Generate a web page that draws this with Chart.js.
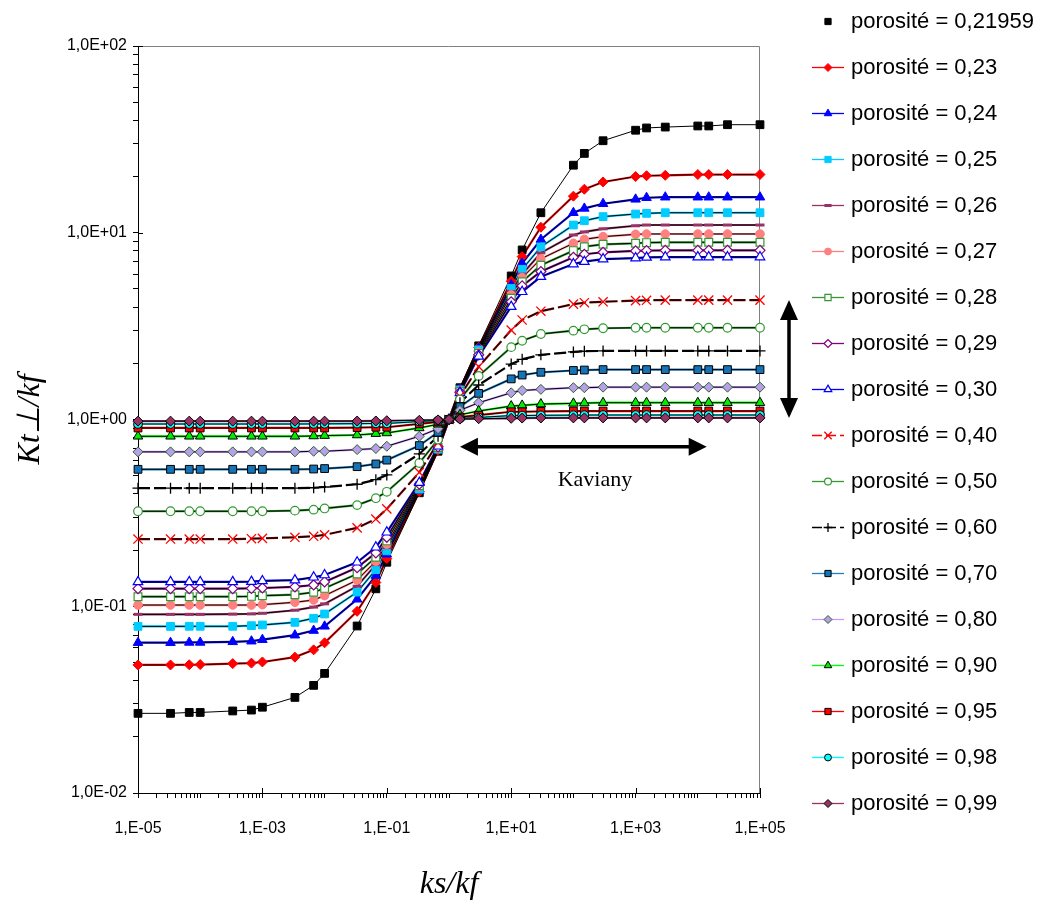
<!DOCTYPE html>
<html>
<head>
<meta charset="utf-8">
<script src="https://cdn.jsdelivr.net/npm/chart.js@4.4.0/dist/chart.umd.min.js"></script>
<style>
html,body{margin:0;padding:0;background:#ffffff;}
#wrap{width:1039px;height:913px;position:relative;}
canvas{display:block;}
</style>
</head>
<body>
<div id="wrap"><canvas id="c" width="1039" height="913"></canvas></div>
<script>
// ---------- DATA ----------
const ksKf = [1e-5, 3.333e-5, 6.667e-5, 1e-4, 3.333e-4, 6.667e-4, 1e-3, 3.333e-3, 6.667e-3, 1e-2, 3.333e-2, 6.667e-2, 0.1, 0.3333, 0.6667,
              1, 1.5, 3, 10, 15, 30, 100, 150, 300, 1000, 1500, 3000, 1e4, 1.5e4, 3e4, 1e5];

const kt_021959 = [0.0267, 0.0267, 0.0270, 0.0270, 0.0275, 0.0278, 0.0288, 0.0325, 0.0377, 0.0437, 0.0784, 0.124, 0.172, 0.405, 0.676,
                   1, 1.48, 2.48, 5.87, 8.09, 12.8, 23.0, 26.6, 31.1, 35.4, 36.4, 36.8, 37.3, 37.3, 37.9, 37.9];
const kt_023 = [0.0485, 0.0485, 0.0486, 0.0487, 0.0493, 0.0496, 0.0503, 0.0534, 0.0584, 0.0637, 0.0940, 0.134, 0.180, 0.411, 0.685,
                1, 1.46, 2.43, 5.50, 7.45, 10.7, 15.7, 17.1, 18.7, 20.0, 20.2, 20.3, 20.5, 20.5, 20.5, 20.5];
const kt_024 = [0.0638, 0.0638, 0.0640, 0.0640, 0.0645, 0.0650, 0.0662, 0.0700, 0.0741, 0.0781, 0.109, 0.146, 0.190, 0.417, 0.690,
                1, 1.45, 2.40, 5.25, 6.86, 9.20, 12.8, 13.5, 14.3, 15.1, 15.4, 15.5, 15.5, 15.5, 15.5, 15.5];
const kt_025 = [0.0780, 0.0780, 0.0781, 0.0781, 0.0781, 0.0787, 0.0794, 0.0820, 0.0862, 0.0909, 0.119, 0.157, 0.198, 0.424, 0.694,
                1, 1.44, 2.36, 5.04, 6.37, 8.40, 11.0, 11.6, 12.2, 12.6, 12.7, 12.8, 12.8, 12.8, 12.8, 12.8];
const kt_026 = [0.0905, 0.0905, 0.0905, 0.0905, 0.0908, 0.0910, 0.0917, 0.0952, 0.0990, 0.103, 0.128, 0.167, 0.206, 0.429, 0.699,
                1, 1.43, 2.33, 4.85, 6.00, 7.80, 9.73, 10.1, 10.5, 10.9, 11.0, 11.0, 11.0, 11.0, 11.0, 11.0];
const kt_027 = [0.1015, 0.1015, 0.1015, 0.1015, 0.1015, 0.1015, 0.1020, 0.1050, 0.108, 0.114, 0.138, 0.174, 0.215, 0.437, 0.704,
                1, 1.42, 2.29, 4.65, 5.75, 7.25, 8.78, 9.22, 9.53, 9.81, 9.85, 9.85, 9.85, 9.85, 9.85, 9.85];
const kt_028 = [0.1125, 0.1125, 0.1125, 0.1125, 0.1125, 0.1130, 0.1139, 0.1153, 0.1188, 0.1247, 0.149, 0.183, 0.224, 0.442, 0.709,
                1, 1.41, 2.26, 4.46, 5.47, 6.70, 8.02, 8.42, 8.67, 8.78, 8.85, 8.89, 8.89, 8.89, 8.89, 8.89];
const kt_029 = [0.1242, 0.1242, 0.1242, 0.1242, 0.1242, 0.1247, 0.1252, 0.127, 0.130, 0.135, 0.161, 0.193, 0.234, 0.450, 0.714,
                1, 1.40, 2.22, 4.27, 5.19, 6.20, 7.39, 7.67, 7.86, 7.99, 8.02, 8.05, 8.05, 8.05, 8.05, 8.05];
const kt_030 = [0.135, 0.135, 0.135, 0.135, 0.135, 0.1355, 0.1366, 0.138, 0.143, 0.147, 0.172, 0.207, 0.249, 0.459, 0.719,
                1, 1.39, 2.18, 4.02, 4.83, 5.82, 6.80, 7.00, 7.23, 7.32, 7.38, 7.41, 7.41, 7.41, 7.41, 7.41];
const kt_040 = [0.229, 0.229, 0.229, 0.229, 0.229, 0.230, 0.231, 0.234, 0.237, 0.241, 0.263, 0.293, 0.332, 0.521, 0.752,
                1, 1.33, 1.92, 3.01, 3.41, 3.80, 4.15, 4.22, 4.27, 4.33, 4.35, 4.36, 4.36, 4.36, 4.36, 4.36];
const kt_050 = [0.3226, 0.3226, 0.3226, 0.3226, 0.3226, 0.3226, 0.3226, 0.325, 0.329, 0.334, 0.348, 0.379, 0.410, 0.585, 0.781,
                1, 1.28, 1.71, 2.44, 2.64, 2.87, 2.99, 3.04, 3.08, 3.10, 3.10, 3.10, 3.10, 3.10, 3.10, 3.10];
const kt_060 = [0.429, 0.429, 0.429, 0.429, 0.429, 0.429, 0.429, 0.429, 0.431, 0.435, 0.450, 0.476, 0.505, 0.654, 0.813,
                1, 1.23, 1.53, 1.98, 2.10, 2.22, 2.30, 2.32, 2.33, 2.33, 2.33, 2.33, 2.33, 2.33, 2.33, 2.33];
const kt_070 = [0.541, 0.541, 0.541, 0.541, 0.541, 0.541, 0.541, 0.541, 0.543, 0.546, 0.559, 0.578, 0.606, 0.725, 0.855,
                1, 1.17, 1.38, 1.65, 1.73, 1.79, 1.83, 1.84, 1.85, 1.85, 1.85, 1.85, 1.85, 1.85, 1.85, 1.85];
const kt_080 = [0.671, 0.671, 0.671, 0.671, 0.671, 0.671, 0.671, 0.671, 0.676, 0.676, 0.690, 0.699, 0.719, 0.813, 0.893,
                1, 1.12, 1.23, 1.39, 1.43, 1.45, 1.48, 1.48, 1.49, 1.49, 1.49, 1.49, 1.49, 1.49, 1.49, 1.49];
const kt_090 = [0.813, 0.813, 0.813, 0.813, 0.813, 0.813, 0.813, 0.813, 0.816, 0.820, 0.826, 0.840, 0.847, 0.901, 0.943,
                1, 1.06, 1.11, 1.18, 1.19, 1.21, 1.22, 1.225, 1.23, 1.23, 1.23, 1.23, 1.23, 1.23, 1.23, 1.23];
const kt_095 = [0.901, 0.901, 0.901, 0.901, 0.901, 0.901, 0.901, 0.901, 0.901, 0.901, 0.905, 0.909, 0.909, 0.948, 0.971,
                1, 1.03, 1.055, 1.10, 1.10, 1.105, 1.11, 1.11, 1.11, 1.11, 1.11, 1.11, 1.11, 1.11, 1.11, 1.11];
const kt_098 = [0.946, 0.946, 0.946, 0.946, 0.946, 0.946, 0.946, 0.946, 0.947, 0.948, 0.950, 0.952, 0.952, 0.976, 0.988,
                1, 1.012, 1.025, 1.05, 1.05, 1.053, 1.055, 1.056, 1.057, 1.057, 1.057, 1.057, 1.057, 1.057, 1.057, 1.057];
const kt_099 = [0.980, 0.980, 0.980, 0.980, 0.980, 0.980, 0.980, 0.980, 0.980, 0.980, 0.981, 0.982, 0.985, 0.990, 0.995,
                1, 1.005, 1.01, 1.015, 1.018, 1.019, 1.02, 1.02, 1.02, 1.02, 1.02, 1.02, 1.02, 1.02, 1.02, 1.02];

const porosityLabels = ['porosité = 0,21959', 'porosité = 0,23', 'porosité = 0,24', 'porosité = 0,25', 'porosité = 0,26',
  'porosité = 0,27', 'porosité = 0,28', 'porosité = 0,29', 'porosité = 0,30', 'porosité = 0,40', 'porosité = 0,50',
  'porosité = 0,60', 'porosité = 0,70', 'porosité = 0,80', 'porosité = 0,90', 'porosité = 0,95', 'porosité = 0,98', 'porosité = 0,99'];

const xTickValues = [1e-5, 1e-3, 1e-1, 1e1, 1e3, 1e5];
const xTickLabels = ['1,E-05', '1,E-03', '1,E-01', '1,E+01', '1,E+03', '1,E+05'];
const yTickValues = [1e-2, 1e-1, 1, 1e1, 1e2];
const yTickLabels = ['1,0E-02', '1,0E-01', '1,0E+00', '1,0E+01', '1,0E+02'];

// annotation anchors (data space)
const kavianyArrowX = [1.5, 1.39e4];
const kavianyArrowY = 0.715;
const kavianyLabelAt = [222, 0.474];
const porosityArrowY = [4.36, 1.02];

const seriesData = [kt_021959, kt_023, kt_024, kt_025, kt_026, kt_027, kt_028, kt_029, kt_030,
                    kt_040, kt_050, kt_060, kt_070, kt_080, kt_090, kt_095, kt_098, kt_099];

// ---------- STYLES ----------
const seriesStyles = [
  {line:null,      style:'rect',     r:5.5, bg:'#000000', border:'#000000', bw:1},
  {line:'#FF0000', style:'rectRot',  r:5,   bg:'#FF0000', border:'#FF0000', bw:1},
  {line:'#0000FF', style:'triangle', r:5.5, bg:'#0000FF', border:'#0000FF', bw:1},
  {line:'#00CCFF', style:'rect',     r:5.5, bg:'#00CCFF', border:'#00CCFF', bw:1},
  {line:'#993366', style:'line',     r:4.5, bg:'#993366', border:'#993366', bw:3},
  {line:'#FF8080', style:'circle',   r:4.3, bg:'#FF8080', border:'#FF8080', bw:1},
  {line:'#339933', style:'rect',     r:5.5, bg:'#FFFFFF', border:'#339933', bw:1.2},
  {line:'#800080', style:'rectRot',  r:5,   bg:'#FFFFFF', border:'#800080', bw:1.2},
  {line:'#0000FF', style:'triangle', r:5.5, bg:'#FFFFFF', border:'#0000FF', bw:1.2},
  {line:'#FF0000', style:'crossRot', r:6.5, bg:'#FF0000', border:'#FF0000', bw:1.3, dash:[12,4], under:'#800000'},
  {line:'#339933', style:'circle',   r:4.3, bg:'#FFFFFF', border:'#339933', bw:1.2},
  {line:'#000000', style:'cross',    r:5.5, bg:'#000000', border:'#000000', bw:1.3, dash:[12,4]},
  {line:'#1F7FC0', style:'rect',     r:5.5, bg:'#1573B8', border:'#000000', bw:1},
  {line:'#CC99FF', style:'rectRot',  r:5,   bg:'#B8A0E8', border:'#2F5F2F', bw:1},
  {line:'#00FF00', style:'triangle', r:5.5, bg:'#00EE00', border:'#000000', bw:1},
  {line:'#FF0000', style:'rect',     r:5.5, bg:'#FF0000', border:'#000000', bw:1},
  {line:'#00FFFF', style:'circle',   r:4.3, bg:'#00FFFF', border:'#000000', bw:1},
  {line:'#993366', style:'rectRot',  r:5,   bg:'#993366', border:'#000000', bw:1}
];

const datasets = [];
seriesData.forEach((d, i) => {
  const s = seriesStyles[i];
  const pts = d.map((v, j) => ({x: ksKf[j], y: v}));
  if (s.line && i > 0) {
    datasets.push({data: pts, borderColor: s.under || s.line, borderWidth: 2.2, borderDash: s.dash || [],
      pointRadius: 0, pointHoverRadius: 0, order: 100, clip: false, fill: false});
  }
  datasets.push({data: pts, borderColor: '#000000', borderWidth: 1, borderDash: s.dash || [],
    pointRadius: 0, pointHoverRadius: 0, order: 50, clip: false, fill: false});
  datasets.push({label: porosityLabels[i], data: pts, showLine: false, pointStyle: s.style, pointRadius: s.r,
    pointHoverRadius: s.r, pointBackgroundColor: s.bg, pointBorderColor: s.border, pointBorderWidth: s.bw,
    order: -i, clip: false});
});

function sameLog(a, b) { return Math.abs(Math.log10(a) - Math.log10(b)) < 1e-9; }

// ---------- PLUGINS ----------
const framePlugin = {
  id: 'frame',
  beforeDatasetsDraw(chart) {
    const {ctx, chartArea: a, scales} = chart;
    ctx.save();
    ctx.strokeStyle = '#808080';
    ctx.lineWidth = 1;
    ctx.beginPath();
    ctx.moveTo(a.left, a.top + 0.5);
    ctx.lineTo(a.right - 0.5, a.top + 0.5);
    ctx.lineTo(a.right - 0.5, a.bottom);
    ctx.stroke();
    ctx.strokeStyle = '#000000';
    ctx.beginPath();
    xTickValues.forEach(v => {
      const px = Math.round(scales.x.getPixelForValue(v)) + 0.5;
      ctx.moveTo(px, a.bottom); ctx.lineTo(px, a.bottom - 5);
    });
    yTickValues.forEach(v => {
      const py = Math.round(scales.y.getPixelForValue(v)) + 0.5;
      ctx.moveTo(a.left, py); ctx.lineTo(a.left + 5, py);
    });
    ctx.stroke();
    ctx.restore();
  }
};

function doubleArrow(ctx, x1, y1, x2, y2, head, half) {
  const ang = Math.atan2(y2 - y1, x2 - x1);
  const cos = Math.cos(ang), sin = Math.sin(ang);
  ctx.beginPath();
  ctx.moveTo(x1 + cos * head * 0.9, y1 + sin * head * 0.9);
  ctx.lineTo(x2 - cos * head * 0.9, y2 - sin * head * 0.9);
  ctx.stroke();
  [[x1, y1, 1], [x2, y2, -1]].forEach(([tx, ty, dir]) => {
    const bx = tx + dir * cos * head, by = ty + dir * sin * head;
    ctx.beginPath();
    ctx.moveTo(tx, ty);
    ctx.lineTo(bx - sin * half, by + cos * half);
    ctx.lineTo(bx + sin * half, by - cos * half);
    ctx.closePath();
    ctx.fill();
  });
}

const annotPlugin = {
  id: 'annot',
  afterDatasetsDraw(chart) {
    const {ctx, chartArea: a, scales: {x, y}} = chart;
    ctx.save();
    ctx.fillStyle = '#000000';
    ctx.strokeStyle = '#000000';
    ctx.lineWidth = 3.5;
    const hy = y.getPixelForValue(kavianyArrowY);
    doubleArrow(ctx, x.getPixelForValue(kavianyArrowX[0]), hy, x.getPixelForValue(kavianyArrowX[1]), hy, 18, 9);
    const vx = a.right + 29;
    doubleArrow(ctx, vx, y.getPixelForValue(porosityArrowY[0]), vx, y.getPixelForValue(porosityArrowY[1]), 20, 9);
    ctx.font = '22px "Liberation Serif", "Times New Roman", serif';
    ctx.textAlign = 'center';
    ctx.textBaseline = 'middle';
    ctx.fillText('Kaviany', x.getPixelForValue(kavianyLabelAt[0]), y.getPixelForValue(kavianyLabelAt[1]));
    ctx.restore();
  }
};

const sideLegend = {
  id: 'sideLegend',
  afterDraw(chart) {
    const ctx = chart.ctx;
    const top = 20.5, step = 46.05, lx1 = 812, lx2 = 844, mx = 828, tx = 851;
    ctx.save();
    ctx.font = '22px "Liberation Sans", Arial, sans-serif';
    ctx.textBaseline = 'middle';
    ctx.textAlign = 'left';
    seriesStyles.forEach((s, i) => {
      const yy = Math.round(top + i * step) + 0.5;
      if (s.line) {
        ctx.strokeStyle = s.line;
        ctx.lineWidth = 1.3;
        ctx.setLineDash(s.dash ? [10, 4] : []);
        ctx.beginPath();
        ctx.moveTo(lx1, yy); ctx.lineTo(lx2, yy);
        ctx.stroke();
        ctx.setLineDash([]);
      }
      ctx.fillStyle = s.bg;
      ctx.strokeStyle = s.border;
      ctx.lineWidth = s.bw;
      Chart.helpers.drawPoint(ctx, {pointStyle: s.style, radius: s.r * 0.8, rotation: 0, borderWidth: s.bw}, mx, yy);
      ctx.fillStyle = '#000000';
      ctx.fillText(porosityLabels[i], tx, yy);
    });
    ctx.restore();
  }
};

// ---------- CHART ----------
const tickFont = {family: '"Liberation Sans", Arial, sans-serif', size: 16};
const titleFont = {family: '"Liberation Serif", "Times New Roman", serif', size: 32, style: 'italic'};

new Chart(document.getElementById('c'), {
  type: 'line',
  data: {datasets},
  options: {
    responsive: false,
    animation: false,
    devicePixelRatio: 1,
    events: [],
    layout: {padding: {top: 46, right: 279, bottom: 0, left: 0}},
    plugins: {legend: {display: false}, tooltip: {enabled: false}},
    scales: {
      x: {
        type: 'logarithmic', position: 'bottom', min: 1e-5, max: 1e5,
        grid: {display: true, drawOnChartArea: false, drawTicks: true, tickLength: 5, color: '#000000', lineWidth: 1},
        border: {display: true, color: '#000000', width: 1},
        ticks: {autoSkip: false, maxRotation: 0, minRotation: 0, color: '#000000', font: tickFont, padding: 21,
          callback: (v) => { const k = xTickValues.findIndex(t => sameLog(t, v)); return k >= 0 ? xTickLabels[k] : ''; }},
        title: {display: true, text: 'ks/kf', color: '#000000', font: titleFont, padding: {top: 0, bottom: 9}},
        afterBuildTicks: (sc) => {
          const t = [];
          for (let e = -5; e < 5; e++) for (let m = 1; m < 10; m++) t.push({value: m * Math.pow(10, e)});
          t.push({value: 1e5});
          sc.ticks = t;
        },
        afterFit: (sc) => { sc.height = 120; }
      },
      y: {
        type: 'logarithmic', position: 'left', min: 1e-2, max: 1e2,
        grid: {display: true, drawOnChartArea: false, drawTicks: true, tickLength: 5, color: '#000000', lineWidth: 1},
        border: {display: true, color: '#000000', width: 1},
        ticks: {autoSkip: false, color: '#000000', font: tickFont, padding: 6,
          callback: (v) => { const k = yTickValues.findIndex(t => sameLog(t, v)); return k >= 0 ? yTickLabels[k] : ''; }},
        title: {display: true, text: 'Kt⊥/kf', color: '#000000', font: titleFont, padding: {top: 11, bottom: 0}},
        afterBuildTicks: (sc) => {
          const t = [];
          for (let e = -2; e < 2; e++) for (let m = 1; m < 10; m++) t.push({value: m * Math.pow(10, e)});
          t.push({value: 1e2});
          sc.ticks = t;
        },
        afterFit: (sc) => { sc.width = 138; }
      }
    }
  },
  plugins: [framePlugin, annotPlugin, sideLegend]
});
</script>
</body>
</html>
